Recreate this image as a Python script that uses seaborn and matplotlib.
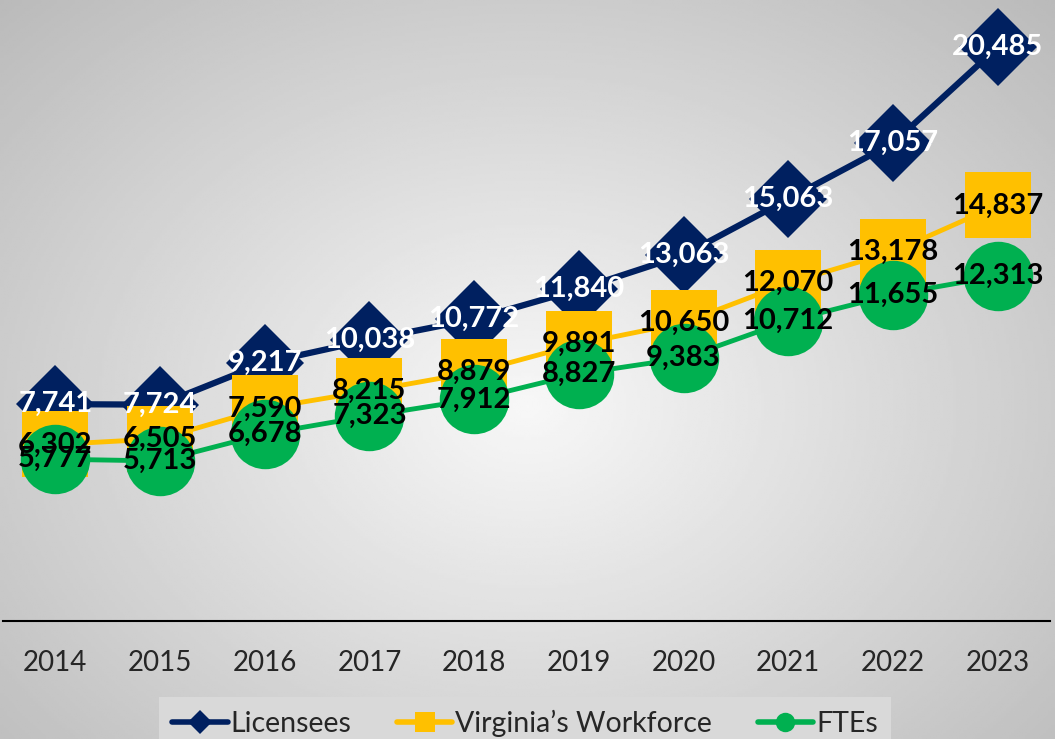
import numpy as np
import pandas as pd
import seaborn as sns
import matplotlib.pyplot as plt
from matplotlib.lines import Line2D

years = [2014, 2015, 2016, 2017, 2018, 2019, 2020, 2021, 2022, 2023]
licensees = [7741, 7724, 9217, 10038, 10772, 11840, 13063, 15063, 17057, 20485]
workforce = [6302, 6505, 7590, 8215, 8879, 9891, 10650, 12070, 13178, 14837]
ftes = [5777, 5713, 6678, 7323, 7912, 8827, 9383, 10712, 11655, 12313]

navy = '#002060'
gold = '#FFC000'
green = '#00B050'

sns.set_style('white')
plt.rcParams['font.family'] = ['Lato', 'DejaVu Sans']

fig = plt.figure(figsize=(10.55, 7.39), dpi=100)

# radial grey background
bg = fig.add_axes([0, 0, 1, 1], zorder=-10)
gx, gy = np.meshgrid(np.linspace(0, 1, 400), np.linspace(0, 1, 300))
r = np.sqrt(((gx - 0.5) / 0.5) ** 2 + ((gy - 0.45) / 0.55) ** 2) / np.sqrt(2)
bg.imshow(0.97 - 0.24 * r, cmap='gray', vmin=0, vmax=1, aspect='auto',
          extent=[0, 1, 0, 1], origin='lower')
bg.axis('off')

ax = fig.add_axes([3 / 1055, 118 / 739, 1047 / 1055, 621 / 739])
ax.set_facecolor('none')

df = pd.DataFrame({'year': years, 'Licensees': licensees,
                   'Virginia’s Workforce': workforce, 'FTEs': ftes})

sns.lineplot(data=df, x='year', y='Licensees', ax=ax, color=navy, lw=4.5,
             marker='D', markersize=40, markeredgewidth=0, zorder=3)
sns.lineplot(data=df, x='year', y='Virginia’s Workforce', ax=ax, color=gold, lw=3.5,
             marker='s', markersize=48, markeredgewidth=0, zorder=4)
sns.lineplot(data=df, x='year', y='FTEs', ax=ax, color=green, lw=3.5,
             marker='o', markersize=50, markeredgewidth=0, zorder=5)

for x, a, b, c in zip(years, licensees, workforce, ftes):
    ax.text(x, a, f'{a:,}', ha='center', va='center', color='white',
            fontsize=21, fontweight='bold', zorder=10)
    ax.text(x, b, f'{b:,}', ha='center', va='center', color='black',
            fontsize=21, fontweight='bold', zorder=10)
    ax.text(x, c, f'{c:,}', ha='center', va='center', color='black',
            fontsize=21, fontweight='bold', zorder=10)

ax.set_xlim(2013.5, 2023.5)
ax.set_ylim(0, 22170)
ax.set_xticks(years)
ax.set_xticklabels([str(y) for y in years], fontsize=20)
ax.tick_params(axis='x', length=0, pad=21)
ax.set_yticks([])
ax.set_xlabel('')
ax.set_ylabel('')
for s in ['top', 'left', 'right']:
    ax.spines[s].set_visible(False)
ax.spines['bottom'].set_color('black')
ax.spines['bottom'].set_linewidth(1.5)

handles = [
    Line2D([], [], color=navy, lw=4, marker='D', markersize=12, markeredgewidth=0),
    Line2D([], [], color=gold, lw=4, marker='s', markersize=14, markeredgewidth=0),
    Line2D([], [], color=green, lw=4, marker='o', markersize=14, markeredgewidth=0),
]
leg = fig.legend(handles, ['Licensees', 'Virginia’s Workforce', 'FTEs'],
                 loc='upper center', bbox_to_anchor=(525 / 1055, 1 - 697 / 739),
                 ncol=3, fontsize=20.5, frameon=True, fancybox=False,
                 handlelength=1.95, handletextpad=0.1, columnspacing=1.6,
                 borderpad=0.45, borderaxespad=0)
leg.get_frame().set_facecolor('#d9d9d9')
leg.get_frame().set_edgecolor('none')
leg.get_frame().set_alpha(1)

fig.savefig('out.png', dpi=100)
